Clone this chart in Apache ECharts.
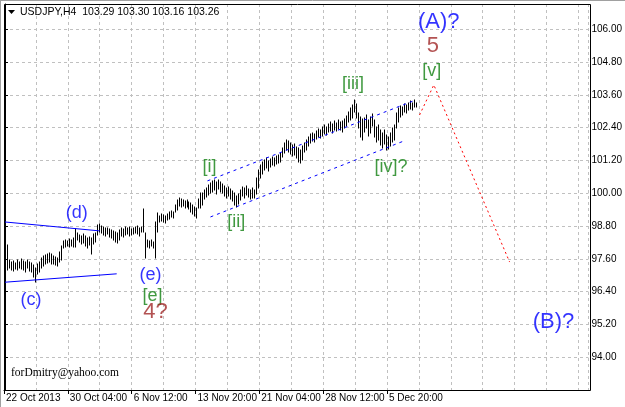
<!DOCTYPE html>
<html>
<head>
<meta charset="utf-8">
<script src="https://cdn.jsdelivr.net/npm/echarts@6/dist/echarts.min.js"></script>
<style>
html,body{margin:0;padding:0;background:#fff;}
#chart{width:625px;height:407px;}
</style>
</head>
<body>
<div id="chart"></div>
<script>
// ---- data ----
const symbolName = 'USDJPY,H4';
const lastBar = [103.29, 103.30, 103.16, 103.26];
const timeLabels = ['22 Oct 2013', '30 Oct 04:00', '6 Nov 12:00', '13 Nov 20:00', '21 Nov 04:00', '28 Nov 12:00', '5 Dec 20:00'];
const timeLabelBars = [-0.5, 31.5, 63.5, 95.5, 127.5, 159.5, 191.5];
const barHigh = [
98.22,98.11,97.56,97.48,97.52,97.45,97.56,97.48,97.59,97.52,
97.48,97.56,97.48,97.45,97.37,97.26,97.41,97.48,97.63,97.70,
97.74,97.78,97.81,97.78,97.70,97.67,97.63,97.85,98.07,98.25,
98.29,98.25,98.33,98.29,98.36,98.69,98.54,98.47,98.43,98.51,
98.43,98.36,98.40,98.36,98.51,98.54,98.84,98.87,98.80,98.76,
98.73,98.73,98.69,98.65,98.62,98.58,98.54,98.65,98.73,98.69,
98.76,98.73,98.76,98.69,98.73,98.76,98.80,98.73,98.76,99.42,
98.54,98.29,98.25,98.29,98.22,98.95,99.28,99.17,99.24,99.20,
99.17,99.24,99.31,99.35,99.31,99.57,99.75,99.83,99.79,99.75,
99.72,99.75,99.68,99.64,99.57,99.50,99.46,99.79,100.01,100.01,
100.12,100.19,100.30,100.38,100.45,100.49,100.41,100.49,100.41,100.34,
100.27,100.19,100.23,100.16,100.08,100.01,99.90,99.97,100.12,100.23,
100.19,100.27,100.16,100.12,100.19,100.12,100.56,100.85,101.03,101.14,
101.22,101.29,101.18,101.25,101.33,101.29,101.36,101.40,101.47,101.65,
101.84,101.95,101.91,101.84,101.76,101.80,101.69,101.65,101.58,101.73,
101.84,101.95,102.06,102.17,102.20,102.17,102.28,102.35,102.31,102.42,
102.50,102.42,102.53,102.61,102.53,102.64,102.57,102.68,102.61,102.64,
102.72,102.83,102.97,103.12,103.23,103.41,103.27,102.94,102.79,102.72,
102.75,102.86,102.68,102.79,102.90,102.68,102.42,102.50,102.31,102.20,
102.31,102.13,102.06,102.20,102.39,102.50,102.94,103.12,103.19,103.16,
103.27,103.23,103.30,103.38,103.30,103.41,103.30
];
const barLow = [
97.96,97.19,97.26,97.19,97.15,97.23,97.19,97.26,97.23,97.19,
97.12,97.26,97.15,97.12,96.94,96.75,97.05,97.12,97.26,97.34,
97.41,97.45,97.48,97.41,97.41,97.37,97.34,97.48,97.56,98.00,
98.03,98.07,98.03,98.07,98.03,98.03,98.29,98.22,98.14,98.18,
98.07,98.00,98.11,97.78,98.14,98.22,98.47,98.58,98.54,98.47,
98.43,98.51,98.40,98.36,98.29,98.22,98.18,98.29,98.43,98.40,
98.47,98.51,98.43,98.47,98.51,98.54,98.51,98.43,98.58,98.58,
97.63,98.03,98.00,98.07,98.00,97.63,98.58,98.95,98.98,98.95,
98.91,99.02,99.06,99.13,99.09,99.31,99.39,99.53,99.50,99.53,
99.46,99.50,99.42,99.31,99.24,99.17,99.09,99.46,99.46,99.57,
99.79,99.86,99.94,100.01,100.05,100.12,99.97,100.16,100.05,100.01,
99.90,99.83,99.90,99.79,99.72,99.57,99.50,99.61,99.75,99.90,
99.83,99.94,99.86,99.79,99.83,99.83,99.97,100.19,100.56,100.70,
100.85,100.92,100.81,100.96,101.03,101.00,101.07,101.11,101.14,101.33,
101.47,101.58,101.51,101.44,101.36,101.40,101.29,101.14,101.11,101.22,
101.51,101.58,101.73,101.84,101.91,101.87,101.98,102.06,102.02,102.09,
102.17,102.13,102.24,102.28,102.20,102.31,102.28,102.35,102.31,102.24,
102.39,102.46,102.61,102.68,102.75,102.97,102.75,102.39,102.06,101.95,
102.24,102.39,102.09,102.20,102.46,102.06,101.87,101.95,101.76,101.65,
101.80,101.58,101.62,101.73,101.87,101.95,102.39,102.61,102.79,102.86,
102.97,102.94,103.05,103.08,103.05,103.16,103.16
];
// trend lines: [barIndex, price]
const triangleUpper = [[-0.5, 98.95], [47.5, 98.62]];
const triangleLower = [[-0.5, 96.74], [56, 97.05]];
const channelUpper = [[101.5, 100.45], [206, 103.41]];
const channelLower = [[103, 99.13], [200, 101.91]];
const forecastPath = [[207.85, 102.86], [215, 103.96], [253, 97.48]];
// wave labels
const waveText  = ['(c)', '(d)', '(e)', '[e]', '4?', '[i]', '[ii]', '[iii]', '[iv]?', '[v]', '5', '(A)?', '(B)?'];
const waveIndex = [13, 36, 73, 74, 75.5, 102.5, 116, 174.5, 193.5, 214, 214.5, 217.5, 275];
const wavePrice = [96.09, 99.28, 97.01, 96.24, 95.66, 100.96, 98.95, 104.0, 100.96, 104.47, 105.39, 106.27, 95.29];
const waveKind  = ['blue', 'blue', 'blue', 'green', 'brown', 'green', 'green', 'green', 'green', 'green', 'brown', 'blueBig', 'blueBig'];

// ---- styles ----
const FONT = '"Liberation Sans", Arial, sans-serif';
const kindStyle = {
  blue: {color: '#0000ff', fontSize: 18},
  blueBig: {color: '#0000ff', fontSize: 22},
  green: {color: '#108010', fontSize: 18},
  brown: {color: '#a02828', fontSize: 22}
};
const GRID = {left: 4, top: 4, width: 586, height: 386};
const gridLine = {color: '#c0c0c0', type: [3, 3], width: 1};

const chart = echarts.init(document.getElementById('chart'), null, {renderer: 'canvas'});

const barData = barHigh.map((h, i) => [i, barLow[i], h]);
const waveData = waveText.map((t, k) => ({
  value: [waveIndex[k], wavePrice[k]],
  label: {formatter: t, color: kindStyle[waveKind[k]].color, fontSize: kindStyle[waveKind[k]].fontSize}
}));

function lineSeries(data, color, dash) {
  return {
    type: 'line', data: data, symbol: 'none', silent: true, animation: false,
    xAxisIndex: 0, yAxisIndex: 0, z: 4,
    lineStyle: {color: color, width: 1, type: dash}
  };
}

const option = {
  animation: false,
  backgroundColor: '#fff',
  textStyle: {fontFamily: FONT},
  grid: Object.assign({show: false, containLabel: false}, GRID),
  xAxis: [
    {
      type: 'value', min: -0.5, max: 292.5, interval: 16, position: 'bottom',
      axisLine: {show: true, lineStyle: {color: '#000', width: 1}},
      axisTick: {show: false}, axisLabel: {show: false},
      splitLine: {show: true, lineStyle: gridLine}
    },
    {
      type: 'value', min: -0.5, max: 292.5, interval: 32, position: 'bottom',
      axisLine: {show: false},
      axisTick: {show: true, length: 4, lineStyle: {color: '#000'}, customValues: timeLabelBars},
      splitLine: {show: false},
      axisLabel: {
        show: true, align: 'left', margin: 3, padding: [0, 0, 0, 2],
        fontSize: 10, color: '#000', fontFamily: FONT,
        customValues: timeLabelBars,
        formatter: function (v) {
          const k = timeLabelBars.findIndex(b => Math.abs(b - v) < 1e-6);
          return k >= 0 ? timeLabels[k] : '';
        }
      }
    }
  ],
  yAxis: {
    type: 'value', position: 'right', min: 92.8, max: 106.92, interval: 1.2,
    axisLine: {show: true, lineStyle: {color: '#000'}},
    axisTick: {show: true, length: 3, lineStyle: {color: '#000'}},
    splitLine: {show: true, lineStyle: gridLine},
    axisLabel: {
      margin: 3, fontSize: 10, color: '#000', fontFamily: FONT,
      showMinLabel: false, showMaxLabel: false,
      formatter: v => v.toFixed(2)
    }
  },
  series: [
    {
      type: 'custom', xAxisIndex: 0, yAxisIndex: 0, data: barData, silent: true, z: 3,
      renderItem: function (params, api) {
        const x = api.value(0);
        const lo = api.coord([x, api.value(1)]);
        const hi = api.coord([x, api.value(2)]);
        const px = Math.round(lo[0]) + 0.5;
        return {
          type: 'line',
          shape: {x1: px, y1: Math.round(lo[1]) + 0.5, x2: px, y2: Math.round(hi[1]) - 0.5},
          style: {stroke: '#000', lineWidth: 1}
        };
      }
    },
    lineSeries(triangleUpper, '#0000ff', 'solid'),
    lineSeries(triangleLower, '#0000ff', 'solid'),
    lineSeries(channelUpper, '#0000ff', [3, 4]),
    lineSeries(channelLower, '#0000ff', [3, 4]),
    lineSeries(forecastPath, '#ff0000', [2, 3]),
    {
      type: 'scatter', xAxisIndex: 0, yAxisIndex: 0, data: waveData, silent: true, z: 6,
      symbolSize: 1, itemStyle: {color: 'transparent'},
      label: {show: true, position: 'inside', fontFamily: FONT}
    }
  ],
  graphic: [
    {type: 'rect', z: 100, silent: true,
     shape: {x: GRID.left + 0.5, y: GRID.top + 0.5, width: GRID.width, height: GRID.height},
     style: {fill: 'none', stroke: '#000', lineWidth: 1}},
    {type: 'line', z: 100, silent: true, shape: {x1: 0, y1: 0.5, x2: 625, y2: 0.5}, style: {stroke: '#a0a0a0', lineWidth: 1}},
    {type: 'line', z: 100, silent: true, shape: {x1: 0.5, y1: 0, x2: 0.5, y2: 407}, style: {stroke: '#a0a0a0', lineWidth: 1}},
    {type: 'polygon', z: 100, silent: true, shape: {points: [[8, 10], [15, 10], [11.5, 14]]}, style: {fill: '#000'}},
    {type: 'text', z: 100, silent: true, x: 20, y: 12,
     style: {text: symbolName + '  ' + lastBar.map(v => v.toFixed(2)).join(' '), fill: '#000',
             font: '10.5px ' + FONT, textVerticalAlign: 'middle', verticalAlign: 'middle'}},
    {type: 'text', z: 100, silent: true, x: 11, y: 373,
     style: {text: 'forDmitry@yahoo.com', fill: '#000',
             font: '11.5px "Liberation Serif", "Times New Roman", serif', textVerticalAlign: 'middle', verticalAlign: 'middle'}}
  ]
};
chart.setOption(option);
</script>
</body>
</html>
